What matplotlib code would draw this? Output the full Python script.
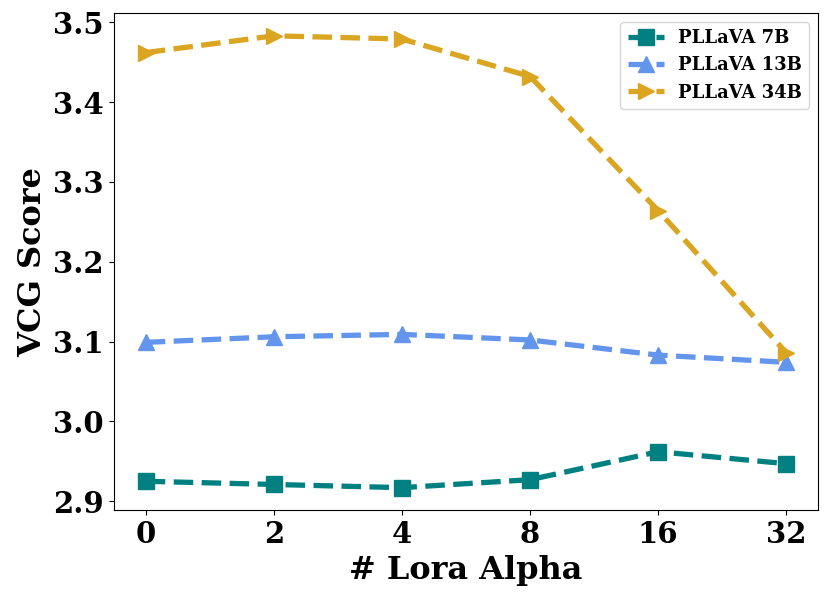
import matplotlib
matplotlib.use("Agg")
import matplotlib.pyplot as plt

plt.rcParams['font.family'] = 'DejaVu Serif'
plt.rcParams['font.weight'] = 'bold'

# datos
alphas = ['0', '2', '4', '8', '16', '32']
pllava_7b = [2.925, 2.921, 2.917, 2.927, 2.962, 2.947]
pllava_13b = [3.099, 3.106, 3.109, 3.102, 3.083, 3.074]
pllava_34b = [3.462, 3.483, 3.479, 3.432, 3.264, 3.086]

x = range(len(alphas))

fig, ax = plt.subplots(figsize=(8.3, 6.01), dpi=100)
ax.plot(x, pllava_7b, color='teal', linestyle='--', linewidth=3.8,
        marker='s', markersize=12, label='PLLaVA 7B')
ax.plot(x, pllava_13b, color='cornflowerblue', linestyle='--', linewidth=3.8,
        marker='^', markersize=12, label='PLLaVA 13B')
ax.plot(x, pllava_34b, color='goldenrod', linestyle='--', linewidth=3.8,
        marker='>', markersize=12, label='PLLaVA 34B')

ax.set_xticks(list(x))
ax.set_xticklabels(alphas)
ax.tick_params(axis='both', labelsize=21)
for lbl in ax.get_xticklabels() + ax.get_yticklabels():
    lbl.set_fontweight('bold')
ax.set_xlabel('# Lora Alpha', fontsize=23, fontweight='bold')
ax.set_ylabel('VCG Score', fontsize=23, fontweight='bold')
ax.legend(loc='upper right', prop={'size': 13, 'weight': 'bold'})

plt.subplots_adjust(left=0.137, right=0.986, top=0.978, bottom=0.151)
plt.savefig('out.png')
